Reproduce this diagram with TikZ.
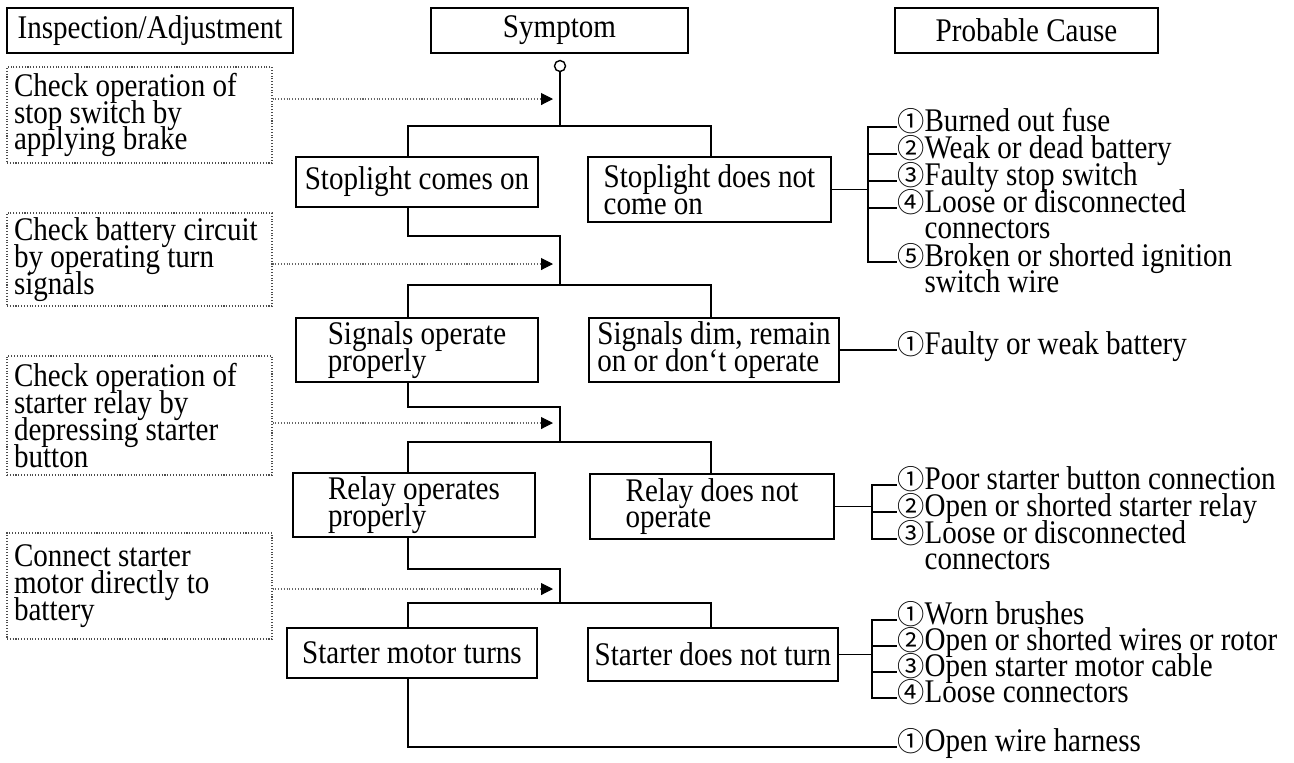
\documentclass[tikz,border=0pt]{standalone}
\usepackage{fontspec}
\setmainfont{Liberation Serif}[FakeStretch=0.88]
\newfontfamily\circfont{Noto Sans CJK JP}
\usetikzlibrary{arrows.meta}
\lineskiplimit=-20pt
\newcommand{\tightlines}{\lineskiplimit=-20pt\relax}
\newcommand{\cnum}[1]{{\circfont\fontsize{15.5pt}{15pt}\selectfont#1}}
\newcommand{\twoln}[2]{\vtop{\hbox{#1}\hbox{#2}}}

\begin{document}
\begin{tikzpicture}[x=0.02cm, y=-0.02cm,
      txt/.style={font=\fontsize{18.8pt}{15.2pt}\selectfont, execute at begin node=\tightlines},
      hdr/.style={txt, draw, line width=1pt, minimum height=0.9cm, inner sep=0pt},
      chk/.style={txt, draw=black!70, densely dotted, line width=0.6pt, text width=5.02cm, inner xsep=0.14cm, inner ysep=0pt, align=flush left},
      sym/.style={txt, draw, line width=1pt, minimum width=4.84cm, inner sep=0pt, align=left},
      cause/.style={txt, anchor=mid west, inner sep=0pt},
      tree/.style={line width=1pt},
      dotarr/.style={densely dotted, line width=0.6pt, draw=black!60, -{Triangle[length=0.24cm, width=0.24cm, color=black]}}]
      \useasboundingbox (0,0) rectangle (1294,762);
      % column headers
      \node[hdr, minimum width=5.72cm] (insp) at (150,30.5)    {Inspection/Adjustment};
      \node[hdr, minimum width=5.14cm] (symp) at (559.5,30.5)  {Symptom};
      \node[hdr, minimum width=5.26cm] (prob) at (1026.5,30.5) {Probable Cause};
      % inspection steps
      \node[chk, minimum height=1.92cm] (chk1) at (139.5,115)   {Check operation of\\stop switch by\\applying brake};
      \node[chk, minimum height=1.86cm] (chk2) at (139.5,259.5) {Check battery circuit\\by operating turn\\signals};
      \node[chk, minimum height=2.38cm] (chk3) at (139.5,415.5) {Check operation of\\starter relay by\\depressing starter\\button};
      \node[chk, minimum height=2.12cm] (chk4) at (139.5,586)   {Connect starter\\motor directly to\\battery};
      % symptoms
      \node[circle, draw, line width=0.8pt, inner sep=0pt, minimum size=0.22cm] (orig) at (560,66) {};
      \node[sym, minimum height=1cm] (s1L) at (417,182) {Stoplight comes on};
      \node[sym, minimum height=1.3cm, minimum width=4.86cm] (s1R) at (709.5,189.5) {Stoplight does not\\come on};
      \node[sym, minimum height=1.28cm] (s2L) at (417,350) {Signals operate\\properly};
      \node[sym, minimum height=1.28cm, minimum width=5cm] (s2R) at (714,350) {Signals dim, remain\\on or don‘t operate};
      \node[sym, minimum height=1.28cm] (s3L) at (414,505) {Relay operates\\properly};
      \node[sym, minimum height=1.3cm, minimum width=4.88cm] (s3R) at (712,506.5) {Relay does not\\operate};
      \node[sym, minimum height=1cm, minimum width=5cm] (s4L) at (412,653) {Starter motor turns};
      \node[sym, minimum height=1.06cm, minimum width=5cm] (s4R) at (713,654.5) {Starter does not turn};
      % tree
      \coordinate (lx) at (408,0);
      \coordinate (rx) at (711,0);
      \coordinate (b1) at (560,126); \coordinate (b2) at (560,285);
      \coordinate (b3) at (560,442); \coordinate (b4) at (560,603);
      \coordinate (e1) at (560,236); \coordinate (e2) at (560,407); \coordinate (e3) at (560,569);
      \draw[tree] (orig) -- (b1);
      \draw[tree] (s1L.north -| lx) |- (b1) -| (s1R.north -| rx);
      \draw[tree] (s1L.south -| lx) |- (e1) -- (b2);
      \draw[tree] (s2L.north -| lx) |- (b2) -| (s2R.north -| rx);
      \draw[tree] (s2L.south -| lx) |- (e2) -- (b3);
      \draw[tree] (s3L.north -| lx) |- (b3) -| (s3R.north -| rx);
      \draw[tree] (s3L.south -| lx) |- (e3) -- (b4);
      \draw[tree] (s4L.north -| lx) |- (b4) -| (s4R.north -| rx);
      % dotted arrows
      \coordinate (t1) at (553,99);  \coordinate (t2) at (553,264);
      \coordinate (t3) at (553,423); \coordinate (t4) at (553,589);
      \draw[dotarr] (chk1.east |- t1) -- (t1);
      \draw[dotarr] (chk2.east |- t2) -- (t2);
      \draw[dotarr] (chk3.east |- t3) -- (t3);
      \draw[dotarr] (chk4.east |- t4) -- (t4);
      % probable causes
      \coordinate (sp1) at (868,0); \coordinate (sp3) at (872,0); \coordinate (sp4) at (872,0);
      \node[cause] (c1a) at (897,127) {\cnum{①}Burned out fuse};
      \node[cause] (c1b) at (897,154) {\cnum{②}Weak or dead battery};
      \node[cause] (c1c) at (897,181) {\cnum{③}Faulty stop switch};
      \node[cause] (c1d) at (897,208) {\twoln{\cnum{④}Loose or disconnected}{\phantom{\cnum{④}}connectors}};
      \node[cause] (c1e) at (897,262) {\twoln{\cnum{⑤}Broken or shorted ignition}{\phantom{\cnum{⑤}}switch wire}};
      \node[cause] (c2a) at (897,350) {\cnum{①}Faulty or weak battery};
      \node[cause] (c3a) at (897,485) {\cnum{①}Poor starter button connection};
      \node[cause] (c3b) at (897,512) {\cnum{②}Open or shorted starter relay};
      \node[cause] (c3c) at (897,539) {\twoln{\cnum{③}Loose or disconnected}{\phantom{\cnum{③}}connectors}};
      \node[cause] (c4a) at (897,620) {\cnum{①}Worn brushes};
      \node[cause] (c4b) at (897,646) {\cnum{②}Open or shorted wires or rotor};
      \node[cause] (c4c) at (897,672) {\cnum{③}Open starter motor cable};
      \node[cause] (c4d) at (897,698) {\cnum{④}Loose connectors};
      \node[cause] (c5a) at (897,747) {\cnum{①}Open wire harness};
      \draw[tree] (s1R.east) -- (s1R.east -| sp1);
      \draw[tree] (c1a.mid west) -| (sp1 |- c1e.mid west) -- (c1e.mid west);
      \foreach \c in {c1b,c1c,c1d} \draw[tree] (sp1 |- \c.mid west) -- (\c.mid west);
      \draw[tree] (s2R.east) -- (c2a.mid west);
      \draw[tree] (s3R.east) -- (s3R.east -| sp3);
      \draw[tree] (c3a.mid west) -| (sp3 |- c3c.mid west) -- (c3c.mid west);
      \draw[tree] (sp3 |- c3b.mid west) -- (c3b.mid west);
      \draw[tree] (s4R.east) -- (s4R.east -| sp4);
      \draw[tree] (c4a.mid west) -| (sp4 |- c4d.mid west) -- (c4d.mid west);
      \foreach \c in {c4b,c4c} \draw[tree] (sp4 |- \c.mid west) -- (\c.mid west);
      \draw[tree] (s4L.south -| lx) |- (c5a.mid west);
\end{tikzpicture}
\end{document}
